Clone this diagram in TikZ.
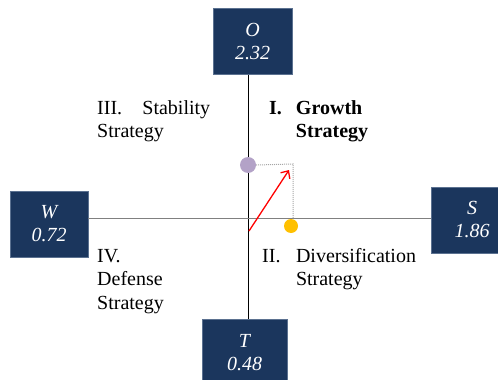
\documentclass[tikz,border=0pt]{standalone}
\usepackage{fontspec}
\setmainfont{Liberation Serif}
\usetikzlibrary{arrows.meta}

\definecolor{swotblue}{HTML}{1B365D}
\definecolor{swotedge}{HTML}{5B7190}
\definecolor{optpurple}{HTML}{B3A2C7}
\definecolor{optyellow}{HTML}{FFC000}

\tikzset{
  swot/.style={draw=swotedge,fill=swotblue,text=white,align=center,
    font=\fontsize{20}{23}\selectfont\itshape,minimum height=66pt,inner sep=0pt},
  quad/.style={anchor=base west,inner sep=0pt,font=\fontsize{20}{23.5}\selectfont},
  dot/.style={circle,inner sep=0pt,minimum size=#1},
}

\begin{document}
\begin{tikzpicture}[x=1pt,y=-1pt]

  \clip (0,0) rectangle (498,380);

  % the four boxes
  \node [swot,minimum width=79pt] (O) at (252.5,41.5) {O\\2.32};
  \node [swot,minimum width=78pt] (W) at (49,224) {W\\0.72};
  \node [swot,minimum width=82pt] (S) at (472,220) {S\\1.86};
  \node [swot,minimum width=85pt] (T) at (244.5,352.5) {T\\0.48};

  \coordinate (C) at (248,218);

  \path [draw,line width=0.8pt]
    (C |- O.south) edge (C |- T.north);
  \path [draw,line width=0.9pt,color=gray]
    (W.east |- C) edge (S.west |- C);

  % quadrants
  \node [quad] (Q3) at (97,114)
    {\begin{tabular}[t]{@{}p{113pt}@{}}III.\hfill Stability\\Strategy\end{tabular}};
  \node [quad,font=\fontsize{20}{23.5}\selectfont\bfseries] (Q1) at (269,114)
    {\begin{tabular}[t]{@{}l@{\hspace{14pt}}l@{}}I. & Growth\\ & Strategy\end{tabular}};
  \node [quad] (Q4) at (97,262)
    {\begin{tabular}[t]{@{}l@{}}IV.\\Defense\\Strategy\end{tabular}};
  \node [quad] (Q2) at (262,262)
    {\begin{tabular}[t]{@{}l@{\hspace{15.5pt}}l@{}}II. & Diversification\\ & Strategy\end{tabular}};

  % strategy point
  \node [dot=16pt,fill=optpurple] (OT) at (248,165) {};
  \node [dot=14pt,fill=optyellow] (SW) at (291,226) {};
  \coordinate (corner) at (293,164);

  \path [draw,gray!70,line width=1pt,dash pattern=on 1pt off 1pt]
    (OT.east) -- (corner) -- (corner |- SW.north);

  \coordinate (start) at (249,231);
  \coordinate (tip) at (289,170);
  \draw [red,line width=1.3pt,-{Straight Barb[length=6pt,width=11pt]}]
    (start) -- (tip);

\end{tikzpicture}
\end{document}
